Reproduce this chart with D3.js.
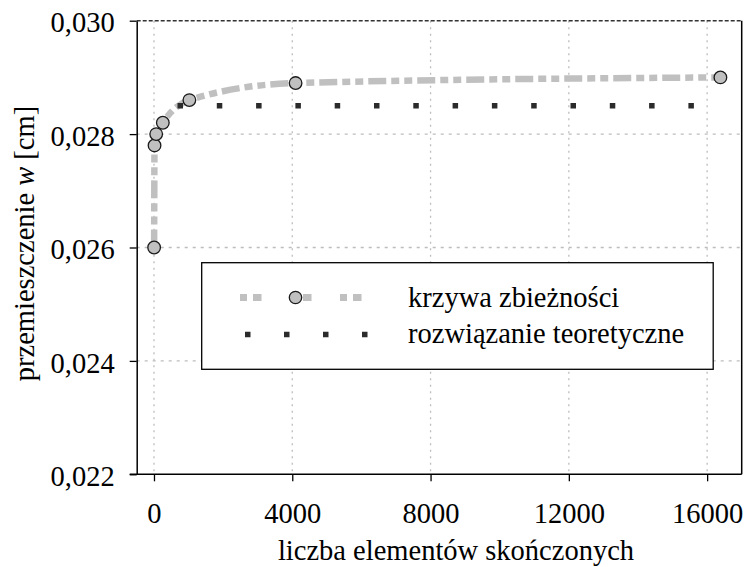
<!DOCTYPE html>
<html>
<head>
<meta charset="utf-8">
<script src="https://cdn.jsdelivr.net/npm/d3@7"></script>
<style>
  body { margin: 0; background: #fff; }
  text { font-family: "Liberation Serif", "Times New Roman", serif; fill: #000; }
</style>
</head>
<body>
<script>
(function() {

    const width = 747;
    const height = 567;
    const fontSize = "28.5px";

    // convergence curve: number of finite elements vs displacement
    const elements = [4, 16, 64, 256, 1024, 4096, 16384];
    const displacement = [0.0260, 0.0278, 0.0280, 0.0282, 0.0286, 0.0289, 0.0290];

    // theoretical solution (constant)
    const theoryX = [680, 16420];
    const theoryValue = 0.0285;

    const xTicks = [0, 4000, 8000, 12000, 16000];
    const yTicks = [0.022, 0.024, 0.026, 0.028, 0.030];

    const legendText = ["krzywa zbieżności", "rozwiązanie teoretyczne"];

    const left = 136.7, right = 741.7, top = 20.7, bottom = 474.3;

    let x = d3.scaleLinear().domain([-500, 17000]).range([left, right]);
    let y = d3.scaleLinear().domain([0.022, 0.030]).range([bottom, top]);

    let svg = d3.select("body").append("svg")
        .attr("width", width)
        .attr("height", height);

    // grid lines
    svg.append("g")
        .selectAll("line")
        .data(xTicks)
        .enter()
        .append("line")
        .attr("x1", d => x(d)).attr("x2", d => x(d))
        .attr("y1", top).attr("y2", bottom)
        .style("stroke", "#bdbdbd")
        .style("stroke-width", 1.3)
        .style("stroke-dasharray", "2,4.5");

    svg.append("g")
        .selectAll("line")
        .data(yTicks.slice(1, -1))
        .enter()
        .append("line")
        .attr("x1", left).attr("x2", right)
        .attr("y1", d => y(d)).attr("y2", d => y(d))
        .style("stroke", "#bdbdbd")
        .style("stroke-width", 1.3)
        .style("stroke-dasharray", "3,5");

    // frame: dashed top, solid right
    svg.append("line")
        .attr("x1", left).attr("x2", right)
        .attr("y1", top).attr("y2", top)
        .style("stroke", "#333")
        .style("stroke-width", 1.4)
        .style("stroke-dasharray", "4,2");
    svg.append("line")
        .attr("x1", right).attr("x2", right)
        .attr("y1", top).attr("y2", bottom)
        .style("stroke", "#000")
        .style("stroke-width", 1.5);

    // axes
    let xAxis = d3.axisBottom(x)
        .tickValues(xTicks)
        .tickSize(7)
        .tickPadding(21.5)
        .tickSizeOuter(0)
        .tickFormat(d3.format("d"));
    let yAxis = d3.axisLeft(y)
        .tickValues(yTicks)
        .tickSize(7)
        .tickPadding(15)
        .tickSizeOuter(0)
        .tickFormat(d => d3.format(".3f")(d).replace(".", ","));

    let gx = svg.append("g")
        .attr("transform", "translate(0," + bottom + ")")
        .call(xAxis);
    gx.select(".domain").attr("d", "M" + (left - 7) + ",0H" + right);
    let gy = svg.append("g")
        .attr("transform", "translate(" + left + ",0)")
        .call(yAxis);
    gy.selectAll(".tick text").attr("dy", "0.39em");

    [gx, gy].forEach(g => {
        g.select(".domain").style("stroke", "#000").style("stroke-width", 1.5);
        g.selectAll(".tick line").style("stroke", "#000").style("stroke-width", 1.3);
        g.selectAll(".tick text")
            .style("font-family", "'Liberation Serif', serif")
            .style("font-size", fontSize)
            .style("fill", "#000");
    });

    // convergence curve
    let pts = elements.map((e, i) => [e, displacement[i]]);
    svg.append("path")
        .datum(pts)
        .attr("d", d3.line().x(d => x(d[0])).y(d => y(d[1])).curve(d3.curveMonotoneX))
        .style("fill", "none")
        .style("stroke", "#c0c0c0")
        .style("stroke-width", 6.5)
        .style("stroke-dasharray", "18,5,8,5,8,5");

    // theoretical line
    svg.append("path")
        .datum(theoryX)
        .attr("d", d3.line().x(d => x(d)).y(() => y(theoryValue)))
        .style("fill", "none")
        .style("stroke", "#2b2b2b")
        .style("stroke-width", 5.5)
        .style("stroke-dasharray", "5.5,33.8");

    svg.selectAll("circle.pt")
        .data(pts)
        .enter()
        .append("circle")
        .attr("class", "pt")
        .attr("cx", d => x(d[0]))
        .attr("cy", d => y(d[1]))
        .attr("r", 6.3)
        .style("fill", "#c0c0c0")
        .style("stroke", "#1a1a1a")
        .style("stroke-width", 1.3);

    // legend
    let legend = svg.append("g");
    legend.append("rect")
        .attr("x", 201.7).attr("y", 262.7)
        .attr("width", 511.5).attr("height", 106.6)
        .style("fill", "#fff")
        .style("stroke", "#000")
        .style("stroke-width", 1.3);

    legend.append("line")
        .attr("x1", 240).attr("x2", 362)
        .attr("y1", 297.5).attr("y2", 297.5)
        .style("stroke", "#c0c0c0")
        .style("stroke-width", 7)
        .style("stroke-dasharray", "7,6,8.5,28.5");
    legend.append("circle")
        .attr("cx", 295.5).attr("cy", 297.5).attr("r", 6.2)
        .style("fill", "#c0c0c0")
        .style("stroke", "#1a1a1a")
        .style("stroke-width", 1.3);
    legend.append("line")
        .attr("x1", 245).attr("x2", 370)
        .attr("y1", 334.5).attr("y2", 334.5)
        .style("stroke", "#2b2b2b")
        .style("stroke-width", 5.5)
        .style("stroke-dasharray", "5.5,33.5");

    legend.selectAll("text")
        .data(legendText)
        .enter()
        .append("text")
        .attr("x", 408)
        .attr("y", (d, i) => 306.8 + i * 36.3)
        .style("font-size", fontSize)
        .text(d => d);

    // axis titles
    svg.append("text")
        .attr("x", 456)
        .attr("y", 560)
        .attr("text-anchor", "middle")
        .style("font-size", fontSize)
        .text("liczba elementów skończonych");

    let yt = svg.append("text")
        .attr("transform", "translate(33.5," + 243.5 + ") rotate(-90)")
        .attr("text-anchor", "middle")
        .style("font-size", fontSize);
    yt.append("tspan").text("przemieszczenie ");
    yt.append("tspan").style("font-style", "italic").text("w");
    yt.append("tspan").text(" [cm]");

})();
</script>
</body>
</html>
